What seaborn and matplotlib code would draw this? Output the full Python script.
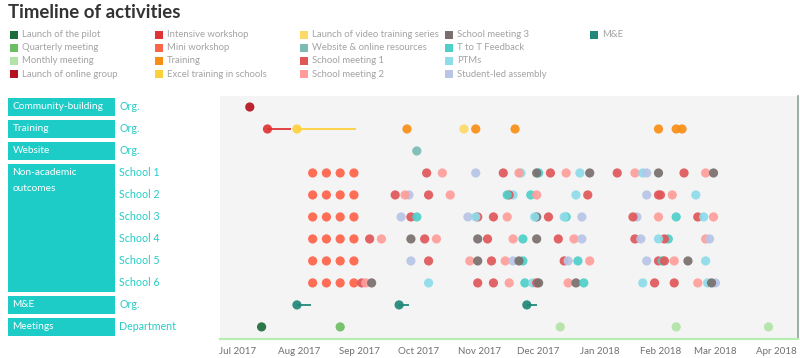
import matplotlib
matplotlib.use("Agg")
import matplotlib.pyplot as plt
from matplotlib.patches import Rectangle
import seaborn as sns
import pandas as pd

sns.set_theme(style="white")
plt.rcParams['font.family'] = ['Lato', 'DejaVu Sans']

# ---------------- data ----------------
title = "Timeline of activities"

activity_types = [
    "Launch of the pilot", "Quarterly meeting", "Monthly meeting", "Launch of online group",
    "Intensive workshop", "Mini workshop", "Training", "Excel training in schools",
    "Launch of video training series", "Website & online resources", "School meeting 1", "School meeting 2",
    "School meeting 3", "T to T Feedback", "PTMs", "Student-led assembly",
    "M&E",
]
activity_colors = [
    "#1E6B3C", "#6CBE62", "#B2E3A6", "#B5121F",
    "#E03333", "#FF6349", "#F98E15", "#FDD13A",
    "#FDD968", "#7CBCB3", "#E15759", "#FF9D9A",
    "#79706E", "#4FCFCA", "#8DDCEA", "#B8C5E6",
    "#21887A",
]
codes = {"SM1": "School meeting 1", "SM2": "School meeting 2", "SM3": "School meeting 3",
         "TTF": "T to T Feedback", "PTM": "PTMs", "SLA": "Student-led assembly",
         "MW": "Mini workshop"}

group_names = ["Community-building", "Training", "Website", "Non-academic\noutcomes", "M&E", "Meetings"]
group_rows = [(0, 0), (1, 1), (2, 2), (3, 8), (9, 9), (10, 10)]
row_labels = ["Org.", "Org.", "Org.", "School 1", "School 2", "School 3", "School 4",
              "School 5", "School 6", "Org.", "Department"]

tick_dates = ["2017-07-01", "2017-08-01", "2017-09-01", "2017-10-01", "2017-11-01",
              "2017-12-01", "2018-01-01", "2018-02-01", "2018-03-01", "2018-04-01"]
tick_labels = ["Jul 2017", "Aug 2017", "Sep 2017", "Oct 2017", "Nov 2017", "Dec 2017",
               "Jan 2018", "Feb 2018", "Mar 2018", "Apr 2018"]

community_events = [("2017-07-07", "Launch of online group")]
training_events = [
    ("2017-07-16", "Intensive workshop"), ("2017-07-31", "Excel training in schools"),
    ("2017-09-25", "Training"), ("2017-10-24", "Launch of video training series"),
    ("2017-10-30", "Training"), ("2017-11-19", "Training"), ("2018-01-31", "Training"),
    ("2018-02-09", "Training"), ("2018-02-12", "Training"),
]
training_spans = [("Intensive workshop", "2017-07-16", "2017-07-28"),
                  ("Excel training in schools", "2017-07-31", "2017-08-30")]
website_events = [("2017-09-30", "Website & online resources")]

mini_workshop_dates = ["2017-08-08", "2017-08-15", "2017-08-22", "2017-08-29"]

school_1 = [("2017-10-05", "SM1"), ("2017-10-13", "SM2"), ("2017-10-30", "SLA"), ("2017-11-13", "SM1"),
            ("2017-11-22", "PTM"), ("2017-11-21", "SM2"), ("2017-12-01", "TTF"), ("2017-11-30", "SM3"),
            ("2017-12-07", "SM1"), ("2017-12-15", "SM2"), ("2017-12-22", "PTM"), ("2017-12-27", "SM3"),
            ("2018-01-10", "SM1"), ("2018-01-19", "SM2"), ("2018-01-23", "PTM"), ("2018-01-25", "SLA"),
            ("2018-01-31", "SM3"), ("2018-02-13", "SM1"), ("2018-02-24", "SM2"), ("2018-02-28", "SM3")]
school_2 = [("2017-09-19", "SM1"), ("2017-09-26", "SLA"), ("2017-09-24", "SM2"), ("2017-10-06", "SM1"),
            ("2017-10-17", "SM2"), ("2017-11-18", "PTM"), ("2017-11-16", "SM1"), ("2017-11-15", "TTF"),
            ("2017-11-27", "TTF"), ("2017-11-30", "SM2"), ("2017-12-20", "PTM"), ("2017-12-26", "SM1"),
            ("2018-01-25", "SLA"), ("2018-01-31", "SM1"), ("2018-02-01", "SM1"), ("2018-02-07", "SM2"),
            ("2018-02-19", "PTM")]
school_3 = [("2017-09-22", "SLA"), ("2017-09-27", "SM1"), ("2017-09-30", "TTF"), ("2017-10-26", "SLA"),
            ("2017-10-31", "SM1"), ("2017-10-30", "PTM"), ("2017-11-08", "SM1"), ("2017-11-15", "SM2"),
            ("2017-11-30", "SM3"), ("2017-11-29", "PTM"), ("2017-12-06", "SM1"), ("2017-12-15", "TTF"),
            ("2017-12-14", "PTM"), ("2017-12-23", "SLA"), ("2018-01-20", "SLA"), ("2018-01-18", "SM1"),
            ("2018-01-31", "SM2"), ("2018-02-09", "TTF"), ("2018-02-20", "SM1"), ("2018-02-23", "PTM"),
            ("2018-02-28", "SM2")]
school_4 = [("2017-09-06", "SM1"), ("2017-09-12", "SM2"), ("2017-09-27", "SM3"), ("2017-10-04", "SM1"),
            ("2017-10-10", "SM2"), ("2017-10-31", "SM3"), ("2017-11-05", "SM1"), ("2017-11-18", "SM2"),
            ("2017-11-23", "TTF"), ("2017-11-30", "SM3"), ("2017-12-11", "SM1"), ("2017-12-19", "SM2"),
            ("2017-12-23", "SLA"), ("2018-01-19", "SM1"), ("2018-01-22", "SLA"), ("2018-02-05", "TTF"),
            ("2018-02-03", "SM1"), ("2018-01-31", "PTM"), ("2018-02-24", "SM2"), ("2018-02-26", "SLA")]
school_5 = [("2017-09-27", "SLA"), ("2017-10-06", "SM1"), ("2017-10-27", "SM2"), ("2017-10-31", "SM3"),
            ("2017-11-07", "SM1"), ("2017-11-14", "SM2"), ("2017-11-18", "SLA"), ("2017-11-23", "TTF"),
            ("2017-11-21", "SM3"), ("2017-12-14", "SM1"), ("2017-12-16", "SLA"), ("2017-12-21", "TTF"),
            ("2017-12-27", "SM2"), ("2018-01-25", "SLA"), ("2018-01-31", "SM1"), ("2018-02-02", "TTF"),
            ("2018-02-03", "SM1"), ("2018-02-08", "SM2"), ("2018-02-15", "SM3"), ("2018-02-24", "PTM")]
school_6 = [("2017-09-02", "SM1"), ("2017-09-04", "SM2"), ("2017-09-07", "SM3"), ("2017-10-06", "PTM"),
            ("2017-10-31", "SM1"), ("2017-11-08", "SM1"), ("2017-11-16", "SM2"), ("2017-11-24", "TTF"),
            ("2017-11-28", "PTM"), ("2017-11-30", "SM1"), ("2017-12-01", "SM3"), ("2017-12-16", "SM2"),
            ("2017-12-20", "SM3"), ("2017-12-24", "TTF"), ("2018-01-23", "PTM"), ("2018-01-29", "SM1"),
            ("2018-02-08", "SM1"), ("2018-02-20", "SM2"), ("2018-03-01", "SLA"), ("2018-02-25", "PTM"),
            ("2018-02-27", "SM3")]

me_spans = [("2017-07-31", "2017-08-07"), ("2017-09-21", "2017-09-26"), ("2017-11-25", "2017-11-30")]
meeting_events = [("2017-07-13", "Launch of the pilot"), ("2017-08-22", "Quarterly meeting"),
                  ("2017-12-12", "Monthly meeting"), ("2018-02-09", "Monthly meeting"),
                  ("2018-03-28", "Monthly meeting")]

# ---------------- build table ----------------
records = []
for d, a in community_events:
    records.append((d, a, 0))
for d, a in training_events:
    records.append((d, a, 1))
for d, a in website_events:
    records.append((d, a, 2))
for i, sch in enumerate([school_1, school_2, school_3, school_4, school_5, school_6]):
    for d in mini_workshop_dates:
        records.append((d, codes["MW"], 3 + i))
    for d, c in sch:
        records.append((d, codes[c], 3 + i))
for s, e in me_spans:
    records.append((s, "M&E", 9))
for d, a in meeting_events:
    records.append((d, a, 10))
df = pd.DataFrame(records, columns=["date", "activity", "row"])
df["date"] = pd.to_datetime(df["date"])
palette = dict(zip(activity_types, activity_colors))

# ---------------- figure ----------------
W, H = 800, 358
fig = plt.figure(figsize=(W / 100, H / 100), dpi=100)


def fx(x):
    return x / W


def fy(y):
    return 1 - y / H


ax_left, ax_right, ax_top, ax_bot = 220, 798, 96, 339
ax = fig.add_axes([fx(ax_left), fy(ax_bot), (ax_right - ax_left) / W, (ax_bot - ax_top) / H])
ax.set_facecolor("#F4F4F4")

# duration lines
for a, s, e in training_spans:
    ax.plot([pd.Timestamp(s), pd.Timestamp(e)], [1, 1], color=palette[a], lw=1.3, zorder=1,
            solid_capstyle="butt")
for s, e in me_spans:
    ax.plot([pd.Timestamp(s), pd.Timestamp(e)], [9, 9], color=palette["M&E"], lw=1.3, zorder=1,
            solid_capstyle="butt")

sns.scatterplot(data=df, x="date", y="row", hue="activity", palette=palette,
                hue_order=activity_types, s=44, linewidth=0, alpha=0.92, legend=False,
                ax=ax, zorder=3)

x0 = pd.Timestamp("2017-07-01")
ax.set_xlim(x0 - pd.Timedelta(days=9.16), x0 + pd.Timedelta(days=285.0))
ax.set_ylim(10.55, -0.5)
ax.set_yticks([])
ax.set_ylabel("")
ax.set_xlabel("")
ax.set_xticks(pd.to_datetime(tick_dates))
ax.set_xticklabels(tick_labels, fontsize=7.0, color="#707070")
ax.tick_params(axis="x", length=0, pad=5.5)
for side in ["top", "left"]:
    ax.spines[side].set_visible(False)
ax.spines["bottom"].set_color("#B7EDB2")
ax.spines["bottom"].set_linewidth(1.6)
ax.spines["right"].set_color("#8AA394")
ax.spines["right"].set_linewidth(1.2)

# left panel sharing the row scale
axl = fig.add_axes([0, fy(ax_bot), ax_left / W, (ax_bot - ax_top) / H])
axl.set_xlim(0, ax_left)
axl.set_ylim(10.55, -0.5)
axl.axis("off")
box_color = "#1ECCC7"
for name, (r0, r1) in zip(group_names, group_rows):
    axl.add_patch(Rectangle((8, r0 - 0.41), 107, (r1 - r0) + 0.82, facecolor=box_color,
                            edgecolor="none"))
    if r0 == r1:
        axl.text(12.5, r0, name, color="white", fontsize=7.3, va="center", ha="left")
    else:
        axl.text(12.5, r0 - 0.22, name, color="white", fontsize=7.3, va="top", ha="left",
                 linespacing=1.95)
for r, lab in enumerate(row_labels):
    axl.text(119, r, lab, color="#27CBC6", fontsize=7.7, va="center", ha="left")

# title
fig.text(fx(8), fy(12), title, fontsize=13.4, fontweight="bold", color="#333333",
         va="center", ha="left")

# legend (5 columns x 4 rows, column-major)
for i, (name, col) in enumerate(zip(activity_types, activity_colors)):
    c, r = divmod(i, 4)
    lx = 9.5 + 145 * c
    ly = 34.5 + 13.2 * r
    fig.patches.append(Rectangle((fx(lx), fy(ly + 4)), 8 / W, 8 / H, facecolor=col,
                                 edgecolor="none", transform=fig.transFigure, figure=fig))
    fig.text(fx(lx + 12.5), fy(ly), name, fontsize=6.8, color="#A3A3A3", va="center", ha="left")

fig.savefig("out.png", dpi=100, facecolor="white")
